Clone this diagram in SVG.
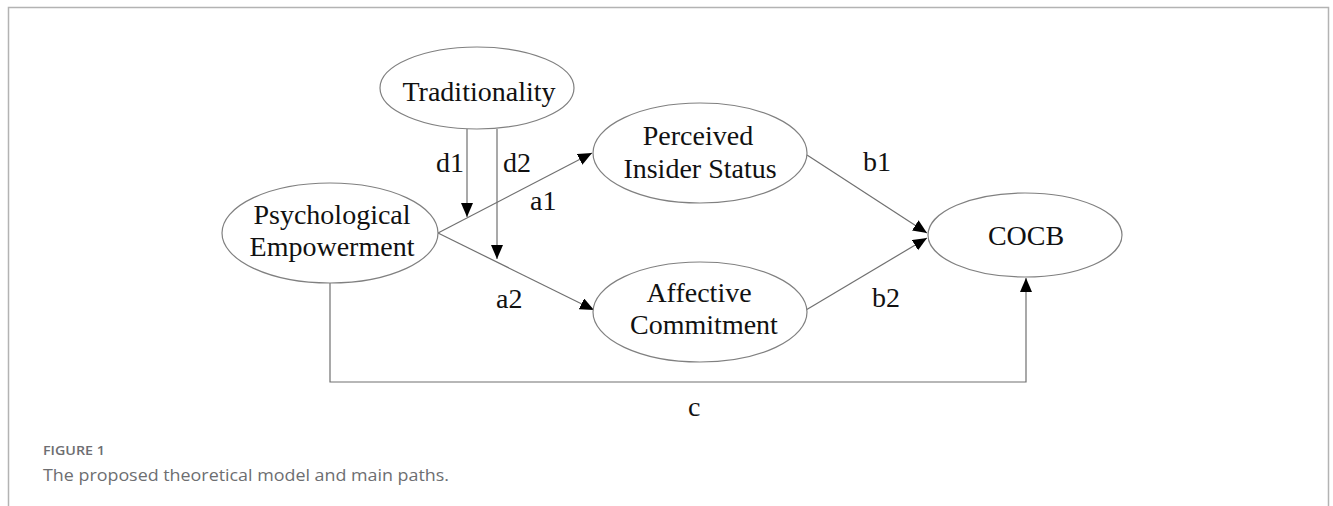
<svg xmlns="http://www.w3.org/2000/svg" width="1333" height="506" viewBox="0 0 1333 506">
<style>
.node ellipse{fill:#fff;stroke:#808080;stroke-width:1.2}
.lbl{font-family:"Liberation Serif","Times New Roman",serif;font-size:28px;fill:#111}
.nt{font-family:"Liberation Serif","Times New Roman",serif;font-size:28px;fill:#111;text-anchor:middle}
.edge{fill:none;stroke:#707070;stroke-width:1.2}
.cap{font-family:"Open Sans","Noto Sans",sans-serif;fill:#6d6e71}
</style>
<defs>
<marker id="ah" markerUnits="userSpaceOnUse" markerWidth="15" markerHeight="13" refX="14" refY="6" orient="auto" viewBox="0 0 15 13">
<path d="M0,0 L14,6 L0,12 z" fill="#000"/>
</marker>
</defs>
<rect width="1333" height="506" fill="#fff"/>
<path d="M8.5 506 V7.5 H1328.5 V506" fill="none" stroke="#b3b3b3" stroke-width="1.5"/>
<g id="connectors">
<path class="edge" d="M467 129 V217" marker-end="url(#ah)"/>
<path class="edge" d="M497 129 V259" marker-end="url(#ah)"/>
<path class="edge" d="M438 233 L592 153" marker-end="url(#ah)"/>
<path class="edge" d="M438 233 L594 310" marker-end="url(#ah)"/>
<path class="edge" d="M807 155 L927 233" marker-end="url(#ah)"/>
<path class="edge" d="M806 310 L927 238" marker-end="url(#ah)"/>
<path class="edge" d="M330 283 V382 H1026 V278" marker-end="url(#ah)"/>
<text class="lbl" x="436" y="172">d1</text>
<text class="lbl" x="503" y="172">d2</text>
<text class="lbl" x="530" y="210">a1</text>
<text class="lbl" x="496" y="308">a2</text>
<text class="lbl" x="863" y="171">b1</text>
<text class="lbl" x="872" y="307">b2</text>
<text class="lbl" x="688" y="416">c</text>
</g>
<g id="traditionality" class="node">
<ellipse cx="477" cy="88" rx="97" ry="41"/>
<text class="nt" x="479" y="101">Traditionality</text>
</g>
<g id="psychological-empowerment" class="node">
<ellipse cx="330" cy="233" rx="108" ry="50"/>
<text class="nt" x="332" y="224">Psychological</text>
<text class="nt" x="332" y="256">Empowerment</text>
</g>
<g id="perceived-insider-status" class="node">
<ellipse cx="700" cy="153" rx="107" ry="50"/>
<text class="nt" x="698" y="145">Perceived</text>
<text class="nt" x="700" y="178">Insider Status</text>
</g>
<g id="affective-commitment" class="node">
<ellipse cx="700" cy="312" rx="107" ry="50"/>
<text class="nt" x="699" y="302">Affective</text>
<text class="nt" x="704" y="334">Commitment</text>
</g>
<g id="cocb" class="node">
<ellipse cx="1025" cy="235" rx="97" ry="42"/>
<text class="nt" x="1026" y="245">COCB</text>
</g>
<g id="caption">
<text class="cap" x="43" y="455" font-size="12.5" font-weight="600" textLength="62" lengthAdjust="spacingAndGlyphs">FIGURE 1</text>
<text class="cap" x="43" y="481" font-size="16.5" textLength="406" lengthAdjust="spacingAndGlyphs">The proposed theoretical model and main paths.</text>
</g>
</svg>
